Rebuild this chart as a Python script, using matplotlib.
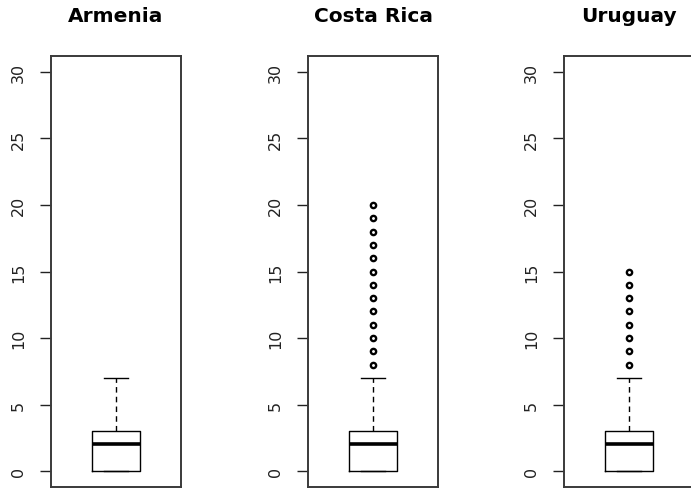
import matplotlib
matplotlib.use("Agg")
import matplotlib.pyplot as plt

# ---------- Data ----------
countries = ["Armenia", "Costa Rica", "Uruguay"]
box_low = [0, 0, 0]
box_q1 = [0, 0, 0]
box_med = [2, 2, 2]
box_q3 = [3, 3, 3]
box_high = [7, 7, 7]
outliers = [
    [],
    [8, 9, 10, 11, 12, 13, 14, 15, 16, 17, 18, 19, 20],
    [8, 9, 10, 11, 12, 13, 14, 15],
]
y_ticks = [0, 5, 10, 15, 20, 25, 30]

fig = plt.figure(figsize=(6.91, 4.89), dpi=100)

lefts = [51 / 691, 308 / 691, 564 / 691]
ax_w = 130 / 691
ax_b = 1 - 488 / 489
ax_h = (488 - 57) / 489

frame_col = "#3a3a3a"

for i, name in enumerate(countries):
    ax = fig.add_axes([lefts[i], ax_b, ax_w, ax_h])
    stats = [{
        "whislo": box_low[i],
        "q1": box_q1[i],
        "med": box_med[i],
        "q3": box_q3[i],
        "whishi": box_high[i],
        "fliers": outliers[i],
    }]
    ax.bxp(
        stats,
        positions=[1],
        widths=0.37,
        capwidths=0.18,
        boxprops=dict(color="black", linewidth=1.0),
        medianprops=dict(color="black", linewidth=2.6, solid_capstyle="butt"),
        whiskerprops=dict(color="black", linewidth=1.0, linestyle=(0, (4, 3))),
        capprops=dict(color="black", linewidth=1.0),
        flierprops=dict(marker="o", markerfacecolor="white", markeredgecolor="black",
                        markersize=3.8, markeredgewidth=1.7, linestyle="none"),
    )
    ax.set_xlim(0.5, 1.5)
    ax.set_ylim(-1.2, 31.2)
    ax.set_xticks([])
    ax.set_yticks(y_ticks)
    ax.set_yticklabels([str(t) for t in y_ticks], rotation=90, va="center",
                       fontsize=11.5, color="#222222")
    ax.tick_params(axis="y", length=8, width=1.0, pad=10, color="#222222")
    for sp in ax.spines.values():
        sp.set_color(frame_col)
        sp.set_linewidth(1.4)
    fig.text(lefts[i] + ax_w / 2, 1 - 15 / 489, name, ha="center", va="center_baseline",
             fontsize=14.5, fontweight="bold")

fig.savefig("out.png", dpi=100)
